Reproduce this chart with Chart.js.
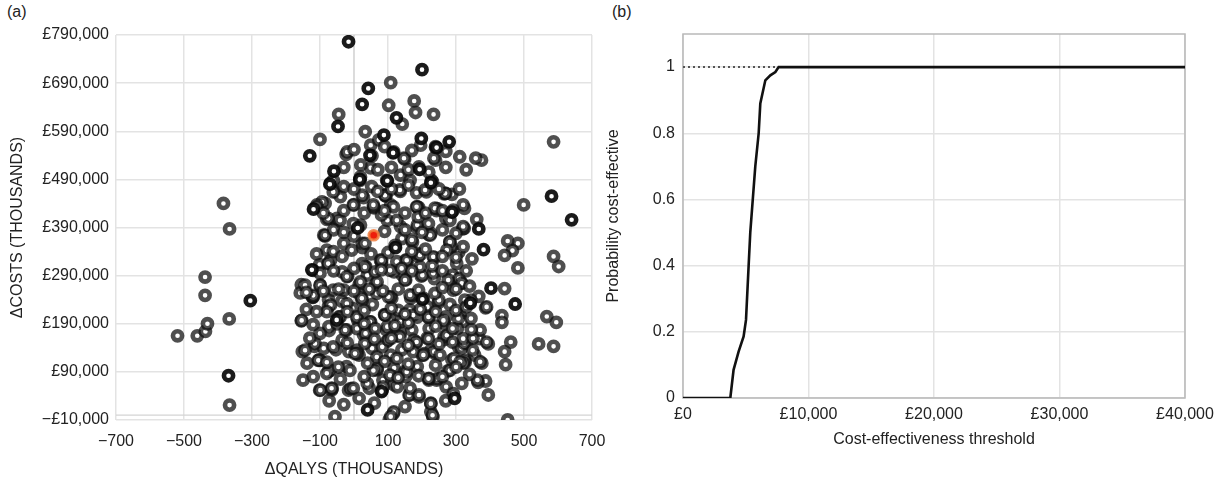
<!DOCTYPE html>
<html>
<head>
<meta charset="utf-8">
<script src="https://cdn.jsdelivr.net/npm/chart.js@4.4.1/dist/chart.umd.min.js"></script>
<style>
  body { margin: 0; background: #fff; width: 1219px; height: 479px; position: relative; overflow: hidden; font-family: "Liberation Sans", Arial, sans-serif; }
  .panel { position: absolute; top: 0; }
  .tag { position: absolute; top: 3px; font-size: 16px; color: #222; }
</style>
</head>
<body>
<div class="tag" style="left:7px">(a)</div>
<div class="tag" style="left:612px">(b)</div>
<div class="panel" style="left:0"><canvas id="scatterA" width="610" height="479"></canvas></div>
<div class="panel" style="left:600px"><canvas id="ceacB" width="619" height="479"></canvas></div>
<script>
// (a) incremental QALYs vs incremental costs, both in thousands
const grayDraws = [
  [-519,165],[-461,165],[-437,174],[-431,190],[-438,287],[-438,249],[-384,440],[-366,387],[-367,200],[-366,21],
  [587,568],[499,437],[482,357],[452,362],[466,342],[443,332],[482,306],[587,330],[602,309],[443,263],
  [435,207],[435,193],[567,205],[595,193],[543,148],[587,143],[461,152],[443,132],[446,105],[395,42],
  [387,71],[365,68],[452,-10],[376,108],[395,148],[369,159],[327,110],[355,125],[387,223],[367,247],
  [347,325],[361,407],[320,387],[325,430],[288,459],[265,460],[308,339],[282,360],[316,275],[296,285],
  [375,530],[311,537],[240,556],[240,530],[234,625],[181,629],[177,653],[108,691],[102,644],[142,605],
  [312,208],[371,177],[326,114],[307,142],[371,111],[390,152],[390,225],
  [-45,625],[33,589],[-100,573],[-23,542],[53,539],[149,532],[-53,464],[-85,440],[-80,407],[-51,403],
  [-85,372],[28,452],[59,431],[94,455],[136,465],[190,432],[243,425],[184,462],[213,464],[186,389],
  [220,375],[141,367],[172,360],[25,348],[-101,313],[-75,316],[-19,289],[34,309],[81,316],[156,317],
  [189,330],[236,327],[198,289],[141,292],[64,273],[15,271],[-155,271],[-158,254],[-121,245],[-75,240],
  [-36,237],[17,251],[54,230],[111,243],[167,243],[248,234],[282,230],[-155,196],[-75,226],[11,198],
  [45,191],[90,209],[130,202],[164,219],[220,202],[265,191],[322,195],[-73,176],[-22,177],[28,167],
  [96,177],[136,171],[170,177],[215,160],[265,157],[316,139],[330,150],[-152,132],[-116,143],[-103,115],
  [-53,136],[-15,132],[15,125],[53,139],[96,153],[141,136],[181,150],[201,125],[237,129],[288,115],
  [322,108],[-138,108],[-75,91],[-22,101],[68,94],[118,98],[186,101],[276,92],[-150,73],[-101,52],
  [-66,52],[-73,30],[-16,52],[15,35],[45,56],[118,63],[164,42],[191,38],[220,73],[243,73],
  [271,59],[226,25],[232,-3],[226,7],[116,4],[104,-9],[-56,-3],[85,73],[150,91],
  [-20,547],[49,561],[73,572],[117,547],[147,534],[196,561],[240,558],[358,534],[-69,482],[19,495],
  [49,514],[137,499],[191,516],[235,534],[231,485],[270,461],[93,457],[24,457],[-40,454],[-94,443],
  [-109,437],[0,437],[58,433],[108,437],[186,433],[245,429],[-50,409],[19,395],[98,405],[137,392],
  [186,395],[226,378],[270,409],[324,388],[-89,374],[-30,357],[24,357],[186,336],[285,350],[-69,322],
  [24,315],[78,322],[152,322],[-35,298],[39,291],[118,298],[201,291],[290,291],
  [-99,270],[19,277],[68,277],[152,281],[236,284],[309,284],[-123,246],[-30,260],[108,246],[172,249],
  [250,239],[344,239],[-69,229],[-5,222],[24,239],[216,225],[-45,204],[49,194],[93,208],[137,194],
  [186,204],[270,204],[344,201],[-74,184],[9,180],[98,184],[221,180],[304,180],[-35,156],[34,170],
  [127,166],[176,156],[265,163],[324,149],[-89,139],[9,135],[83,142],[226,135],
  [-99,114],[9,128],[68,97],[108,125],[152,80],[206,128],[236,132],[294,118],[-69,93],[-64,55],
  [-99,52],[-10,55],[39,66],[83,52],[127,59],[162,42],[191,42],[226,24],[245,76],[221,76],
  [117,7],[108,-3],[231,0],[349,135],[363,73],[-80,343],[-115,149],[-120,246],
  // dense core
  [-61,488],[18,488],[96,488],[165,488],[228,488],
  [-61,464],[52,475],[91,457],[135,468],[209,468],[268,461],
  [-110,433],[-2,437],[57,437],[116,433],[184,433],[238,430],[292,426],[321,437],
  [-76,409],[-41,405],[-2,398],[81,416],[126,405],[189,412],[219,398],[282,405],[321,392],
  [-85,374],[32,357],[121,353],[170,364],[224,374],[282,360],[321,350],
  [-61,340],[-7,343],[81,322],[126,319],[155,322],[194,333],[233,329],[273,343],[302,315],[-76,315],[32,308],[-120,301],
  [-21,288],[62,298],[106,301],[150,281],[194,308],[233,295],[277,281],[317,274],[-144,270],[-100,270],[-61,260],
  [23,243],[67,253],[101,246],[165,250],[204,243],[238,253],[292,260],[326,239],[-21,232],[-120,249],
  [-41,204],[8,204],[47,194],[91,208],[130,218],[174,208],[219,204],[263,197],[307,201],[-154,197],[-80,215],
  [-100,170],[-26,177],[62,180],[101,156],[135,163],[184,152],[219,159],[273,166],[321,159],[-61,142],[32,149],
  [-105,114],[3,128],[67,121],[126,118],[174,132],[204,125],[253,125],[312,111],[-144,135],[-46,100],
  [-80,87],[-12,93],[57,93],[106,83],[155,90],[219,76],[282,93],[317,66],[-66,56],[-2,56],[86,59],[165,56],[292,45],
  // packed rings in the carpet
  [-30,22],[60,25],[150,18],[270,30],
  [-120,80],[-40,75],[30,80],[130,78],[190,82],[260,80],[340,85],
  [-80,110],[40,108],[90,112],[160,106],[240,104],[300,100],
  [-130,160],[-20,150],[60,158],[110,160],[160,145],[250,148],[290,152],[350,160],
  [-120,188],[-50,190],[30,190],[120,186],[160,192],[240,185],[290,180],[345,178],
  [-140,220],[-110,215],[-20,215],[30,218],[110,222],[150,210],[195,220],[240,215],[300,218],[330,225],
  [-140,255],[-90,258],[-45,262],[0,258],[45,262],[85,258],[130,262],[190,260],[260,265],[300,262],[340,268],
  [-100,295],[-60,300],[0,305],[80,302],[140,305],[170,300],[230,310],[260,300],[330,300],
  [-110,335],[-35,330],[50,335],[100,338],[170,340],[210,345],[260,330],[300,328],
  [-60,385],[-30,380],[0,372],[90,382],[150,385],[200,380],[260,385],[300,378],
  [-90,420],[-30,425],[30,420],[90,425],[150,420],[210,420],[260,425],
  [-30,475],[0,470],[70,465],[110,470],[160,478],[250,470],[310,470],
  [-30,515],[20,520],[70,510],[110,515],[160,510],[220,505],[270,515],[330,510],
  [0,552],[90,558],[170,550],[270,548]
];
const darkDraws = [
  [-369,82],[-305,238],[581,455],[640,406],[403,264],[474,231],[296,35],[200,718],[125,618],[88,582],
  [42,679],[24,646],[-16,776],[-47,600],[-130,539],[115,545],[198,575],[243,556],[193,511],[-59,507],
  [-71,480],[17,490],[98,487],[226,483],[-119,428],[11,389],[-124,302],[201,241],[-51,198],[81,49],
  [40,11],[342,233],[381,344],[367,387],[288,422],[280,568],[122,348],[47,540]
];
const meanDraw = [[58,374]];
const qalyTicks = [-700, -500, -300, -100, 100, 300, 500, 700];
const costTicks = [-10, 90, 190, 290, 390, 490, 590, 690, 790];

// (b) acceptability curve
const thresholds = [0, 3770, 4030, 4430, 4830, 5020, 5230, 5360, 5760, 6030, 6160, 6560, 6960, 7360, 7620, 40000];
const probCostEffective = [0, 0, 0.085, 0.14, 0.186, 0.236, 0.40, 0.50, 0.70, 0.80, 0.89, 0.96, 0.975, 0.985, 1, 1];
const refThresholds = [0, 7620];
const refProb = [1, 1];
const thresholdTicks = [0, 10000, 20000, 30000, 40000];
const probTicks = [0, 0.2, 0.4, 0.6, 0.8, 1];

Chart.defaults.font.family = '"Liberation Sans", Arial, sans-serif';
Chart.defaults.font.size = 16;
Chart.defaults.color = '#222';
Chart.defaults.animation = false;

const toXY = pairs => pairs.map(p => ({ x: p[0], y: p[1] }));
const minus = s => s.replace('-', '\u2212');
// keep edge tick labels from shrinking the plot area
const noSidePad = s => { s.paddingLeft = 0; s.paddingRight = 0; };

new Chart(document.getElementById('scatterA'), {
  type: 'scatter',
  data: {
    datasets: [
      { data: toXY(meanDraw), pointRadius: 4.8, borderWidth: 3, backgroundColor: '#ee1e0c', borderColor: 'rgba(240,125,60,0.85)', order: 0 },
      { data: toXY(darkDraws), pointRadius: 4.6, borderWidth: 4.6, backgroundColor: '#fff', borderColor: 'rgba(8,8,8,0.92)', order: 1 },
      { data: toXY(grayDraws), pointRadius: 4.6, borderWidth: 4.6, backgroundColor: '#fff', borderColor: 'rgba(18,18,18,0.74)', order: 2 },
      { data: [{ x: 0, y: -10 }, { x: 0, y: 790 }], showLine: true, pointRadius: 0, borderColor: '#c4c4c4', borderWidth: 1.2, order: 5 },
      { data: [{ x: -700, y: 0 }, { x: 700, y: 0 }], showLine: true, pointRadius: 0, borderColor: '#d4d4d4', borderWidth: 1.2, order: 5 }
    ]
  },
  options: {
    responsive: false,
    layout: { padding: { left: 0, right: 18, top: 35, bottom: 0 } },
    plugins: { legend: { display: false }, tooltip: { enabled: false } },
    scales: {
      x: {
        min: -700, max: 700,
        afterBuildTicks: s => { s.ticks = qalyTicks.map(v => ({ value: v })); },
        afterFit: s => { s.height = 59; noSidePad(s); },
        ticks: { padding: 12, maxRotation: 0, callback: v => minus(String(v)) },
        grid: { color: '#e3e3e3', lineWidth: 1.5, drawTicks: false },
        border: { display: false },
        title: { display: true, text: '\u0394QALYS (THOUSANDS)', padding: { top: 4, bottom: 0 } }
      },
      y: {
        min: -10, max: 790,
        afterBuildTicks: s => { s.ticks = costTicks.map(v => ({ value: v })); },
        afterFit: s => { s.width = 116; },
        ticks: { padding: 7, callback: v => (v < 0 ? '\u2212' : '') + '£' + Math.abs(v * 1000).toLocaleString('en-GB') },
        grid: { color: '#e3e3e3', lineWidth: 1.5, drawTicks: false },
        border: { display: false },
        title: { display: true, text: '\u0394COSTS (THOUSANDS)', padding: { top: 8, bottom: 0 } }
      }
    }
  }
});

const frameBox = {
  id: 'frameBox',
  beforeDatasetsDraw(chart) {
    const { ctx, chartArea: a } = chart;
    ctx.save();
    ctx.strokeStyle = '#b9b9b9';
    ctx.lineWidth = 1.5;
    ctx.strokeRect(a.left, a.top, a.right - a.left, a.bottom - a.top);
    ctx.restore();
  }
};

new Chart(document.getElementById('ceacB'), {
  type: 'scatter',
  data: {
    datasets: [
      { data: thresholds.map((t, i) => ({ x: t, y: probCostEffective[i] })), showLine: true, pointRadius: 0, borderColor: '#111', borderWidth: 2.6, tension: 0, order: 0 },
      { data: refThresholds.map((t, i) => ({ x: t, y: refProb[i] })), showLine: true, pointRadius: 0, borderColor: '#555', borderWidth: 2, borderDash: [2, 3], order: 1 }
    ]
  },
  options: {
    responsive: false,
    layout: { padding: { left: 0, right: 34, top: 34, bottom: 0 } },
    plugins: { legend: { display: false }, tooltip: { enabled: false } },
    scales: {
      x: {
        min: 0, max: 40000,
        afterBuildTicks: s => { s.ticks = thresholdTicks.map(v => ({ value: v })); },
        afterFit: s => { s.height = 81; noSidePad(s); },
        ticks: { padding: 7, maxRotation: 0, callback: v => '£' + v.toLocaleString('en-GB') },
        grid: { color: '#e3e3e3', lineWidth: 1.5, drawTicks: false },
        border: { display: false },
        title: { display: true, text: 'Cost-effectiveness threshold', padding: { top: 4, bottom: 30 } }
      },
      y: {
        min: 0, max: 1.1,
        afterBuildTicks: s => { s.ticks = probTicks.map(v => ({ value: v })); },
        afterFit: s => { s.width = 83; },
        ticks: { padding: 8, callback: v => String(v) },
        grid: { color: '#e3e3e3', lineWidth: 1.5, drawTicks: false },
        border: { display: false },
        title: { display: true, text: 'Probability cost-effective', padding: { top: 4, bottom: 0 } }
      }
    }
  },
  plugins: [frameBox]
});
</script>
</body>
</html>
